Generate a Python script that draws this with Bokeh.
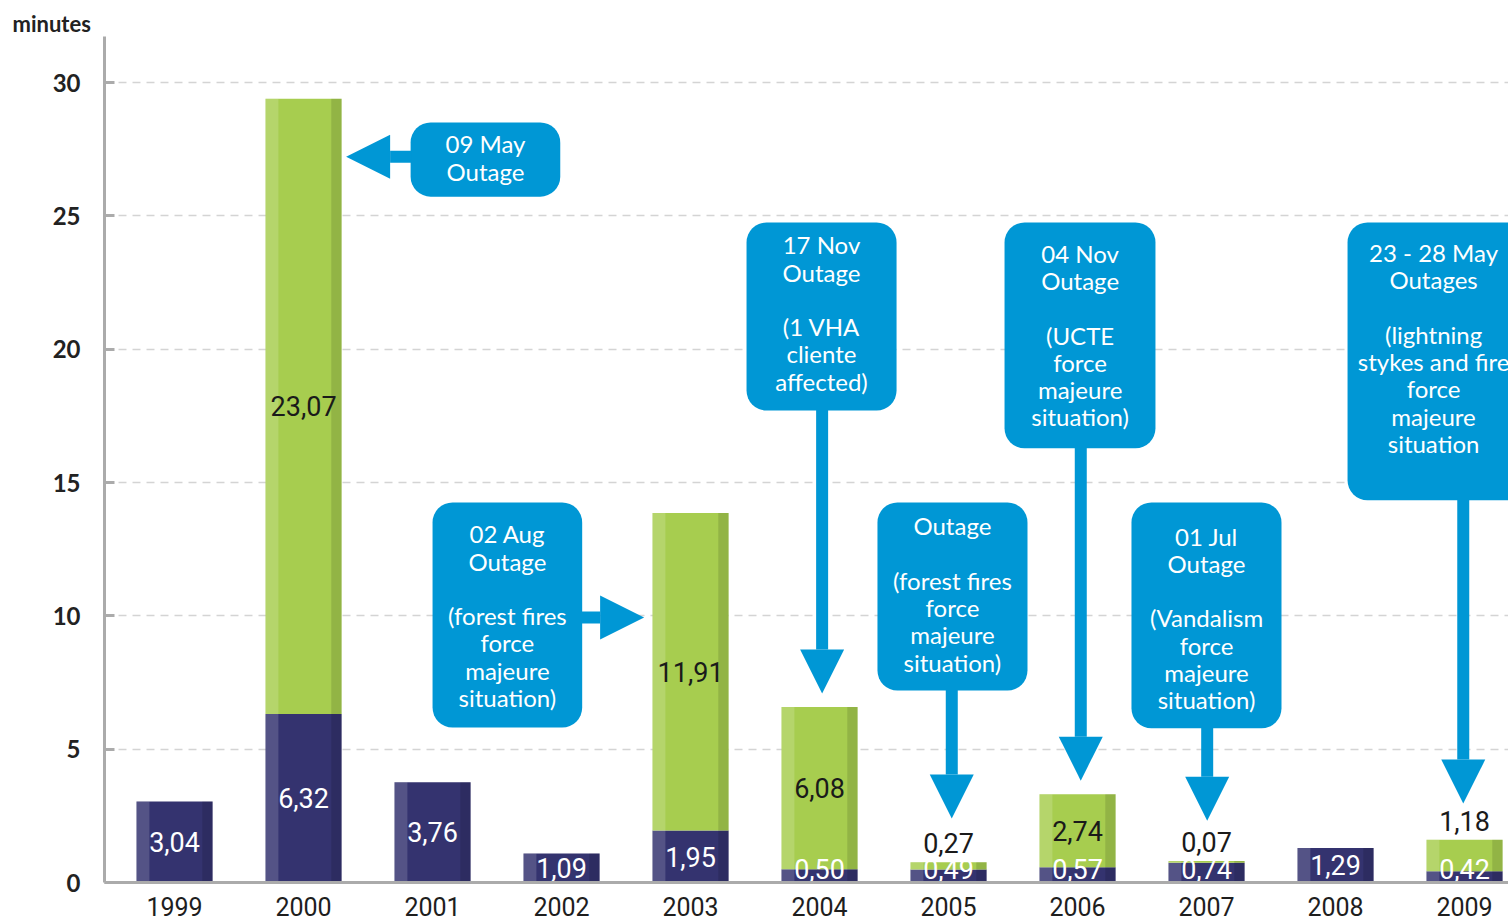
from bokeh.plotting import figure
from bokeh.models import (Range1d, FixedTicker, BoxAnnotation, Label, Arrow,
                          NormalHead, ColumnDataSource)
from bokeh.core.properties import value
from bokeh.embed import file_html
from bokeh.resources import INLINE

# ---------------- data ----------------
years = [1999, 2000, 2001, 2002, 2003, 2004, 2005, 2006, 2007, 2008, 2009]
own_minutes = [3.04, 6.32, 3.76, 1.09, 1.95, 0.50, 0.49, 0.57, 0.74, 1.29, 0.42]
outage_minutes = [0, 23.07, 0, 0, 11.91, 6.08, 0.27, 2.74, 0.07, 0, 1.18]
y_ticks = [0, 5, 10, 15, 20, 25, 30]

NAVY = "#34336f"
GREEN = "#a7cd4f"
BLUE = "#0097d5"
GREY = "#ababab"


def fmt(v):
    return f"{v:.2f}".replace(".", ",")


PX_PER_YEAR = 129
PX_PER_MIN = 800 / 30
FRAME_W = 1404
TOP = 36
FRAME_H = 882 - TOP
X0 = 1998.457
BAR_W = 0.59

p = figure(
    output_backend="svg", toolbar_location=None,
    frame_width=FRAME_W, frame_height=FRAME_H,
    x_range=Range1d(X0, X0 + FRAME_W / PX_PER_YEAR),
    y_range=Range1d(0, FRAME_H / PX_PER_MIN),
    min_border_left=104, min_border_right=0, min_border_top=TOP, min_border_bottom=39,
)
p.outline_line_color = None
p.background_fill_color = "white"
p.border_fill_color = "white"

p.title.text = "minutes"
p.title.align = "left"
p.title.offset = -92
p.title.standoff = 0
p.title.text_font = "Lato"
p.title.text_font_style = "bold"
p.title.text_font_size = "22px"
p.title.text_color = "#222222"

# grid
p.xgrid.visible = False
p.ygrid.ticker = FixedTicker(ticks=[t for t in y_ticks if t > 0])
p.ygrid.grid_line_color = "#d4d4d4"
p.ygrid.grid_line_dash = "8 6"
p.ygrid.grid_line_width = 1.5

# axes
p.yaxis.ticker = FixedTicker(ticks=y_ticks)
p.yaxis.axis_line_color = GREY
p.yaxis.axis_line_width = 3
p.yaxis.major_tick_line_color = GREY
p.yaxis.major_tick_line_width = 3
p.yaxis.major_tick_in = 10
p.yaxis.major_tick_out = 0
p.yaxis.minor_tick_line_color = None
p.yaxis.major_label_standoff = 24
p.yaxis.major_label_text_font = "Lato"
p.yaxis.major_label_text_font_style = "bold"
p.yaxis.major_label_text_font_size = "24px"
p.yaxis.major_label_text_color = "#222222"

p.xaxis.ticker = FixedTicker(ticks=years)
p.xaxis.axis_line_color = GREY
p.xaxis.axis_line_width = 3
p.xaxis.major_tick_line_color = None
p.xaxis.minor_tick_line_color = None
p.xaxis.major_label_standoff = 8
p.xaxis.major_label_text_font = "Roboto"
p.xaxis.major_label_text_font_size = "25px"
p.xaxis.major_label_text_color = "#1e1e1e"

# bars
totals = [d + g for d, g in zip(own_minutes, outage_minutes)]
src = ColumnDataSource(dict(year=years, own=own_minutes, outage=outage_minutes,
                            total=totals,
                            xl=[y - BAR_W / 2 + 0.05 for y in years],
                            xr=[y + BAR_W / 2 - 0.04 for y in years]))
p.vbar_stack(["own", "outage"], x="year", width=BAR_W, color=[NAVY, GREEN],
             line_color=None, source=src)
# soft shading (light left edge, dark right edge)
p.vbar(x="xl", width=0.10, bottom=0, top="total", source=src,
       fill_color="white", fill_alpha=0.16, line_color=None)
p.vbar(x="xr", width=0.08, bottom=0, top="total", source=src,
       fill_color="black", fill_alpha=0.12, line_color=None)

# value labels
own_y = [max(v / 2, 0.5) for v in own_minutes]
lab_own = ColumnDataSource(dict(x=years, y=own_y, t=[fmt(v) for v in own_minutes]))
p.text("x", "y", text="t", source=lab_own, text_align="center",
       text_baseline="middle", text_color="white", text_font=value("Roboto"),
       text_font_size="27px")

in_x, in_y, in_t = [], [], []
ab_x, ab_y, ab_t = [], [], []
for yr, d, g in zip(years, own_minutes, outage_minutes):
    if g <= 0:
        continue
    if g >= 2:
        in_x.append(yr); in_y.append(d + g / 2); in_t.append(fmt(g))
    else:
        ab_x.append(yr); ab_y.append(d + g + 0.35); ab_t.append(fmt(g))
p.text("x", "y", text="t", source=ColumnDataSource(dict(x=in_x, y=in_y, t=in_t)),
       text_align="center", text_baseline="middle", text_color="#1a1a1a",
       text_font=value("Roboto"), text_font_size="27px")
p.text("x", "y", text="t", source=ColumnDataSource(dict(x=ab_x, y=ab_y, t=ab_t)),
       text_align="center", text_baseline="bottom", text_color="#1a1a1a",
       text_font=value("Roboto"), text_font_size="27px")

# callouts (annotation layout in data units)
callouts = [
    dict(text="09 May\nOutage", box=(2000.83, 2001.99, 25.72, 28.5),
         tc=(2001.41, 27.19), arrow=(2000.84, 27.22, 2000.33, 27.22)),
    dict(text="02 Aug\nOutage\n\n(forest fires\nforce\nmajeure\nsituation)",
         box=(2001.0, 2002.16, 5.81, 14.25), tc=(2001.58, 10.01),
         arrow=(2002.15, 9.94, 2002.64, 9.94)),
    dict(text="17 Nov\nOutage\n\n(1 VHA\ncliente\naffected)",
         box=(2003.434, 2004.597, 17.7, 24.75), tc=(2004.015, 21.36),
         arrow=(2004.02, 17.75, 2004.02, 7.09)),
    dict(text="Outage\n\n(forest fires\nforce\nmajeure\nsituation)",
         box=(2004.449, 2005.612, 7.2, 14.25), tc=(2005.03, 10.82),
         arrow=(2005.025, 7.25, 2005.025, 2.4)),
    dict(text="04 Nov\nOutage\n\n(UCTE\nforce\nmajeure\nsituation)",
         box=(2005.434, 2006.604, 16.28, 24.75), tc=(2006.02, 20.53),
         arrow=(2006.025, 16.3, 2006.025, 3.82)),
    dict(text="01 Jul\nOutage\n\n(Vandalism\nforce\nmajeure\nsituation)",
         box=(2006.418, 2007.581, 5.78, 14.25), tc=(2007.0, 9.92),
         arrow=(2007.005, 5.8, 2007.005, 2.32)),
    dict(text="23 - 28 May\nOutages\n\n(lightning\nstykes and fire\nforce\nmajeure\nsituation",
         box=(2008.093, 2009.6, 14.33, 24.75), tc=(2008.76, 20.04),
         arrow=(2008.99, 14.4, 2008.99, 2.96)),
]

for c in callouts:
    l, r, b, t = c["box"]
    p.add_layout(BoxAnnotation(left=l, right=r, bottom=b, top=t, fill_color=BLUE,
                               fill_alpha=1.0, line_color=None, border_radius=20))
    xs, ys, xe, ye = c["arrow"]
    p.add_layout(Arrow(x_start=xs, y_start=ys, x_end=xe, y_end=ye, line_color=BLUE,
                       line_width=12, start=None,
                       end=NormalHead(size=44, fill_color=BLUE, line_color=None)))
    tx, ty = c["tc"]
    p.add_layout(Label(x=tx, y=ty, text=c["text"], text_align="center",
                       text_baseline="middle", text_color="white", text_font="Lato",
                       text_font_size="24px", text_line_height=0.94))

open("out.html", "w").write(file_html(p, INLINE))
